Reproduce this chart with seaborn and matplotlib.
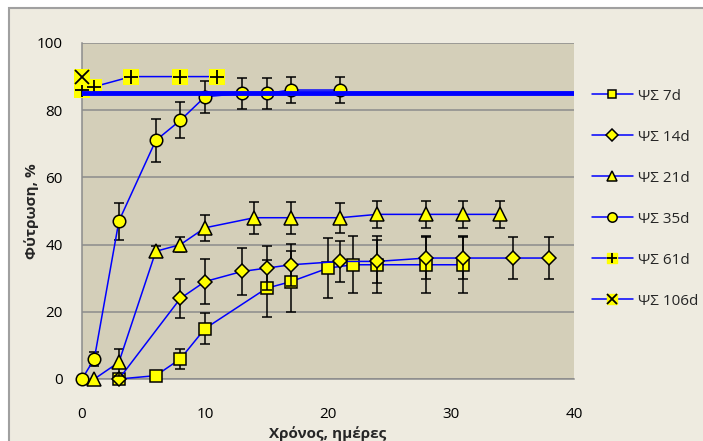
import numpy as np
import pandas as pd
import matplotlib as mpl
mpl.use('Agg')
import matplotlib.pyplot as plt
import seaborn as sns
from matplotlib.patches import Rectangle
from matplotlib.legend_handler import HandlerTuple
from matplotlib.lines import Line2D

# data (days, germination %, error)
days_7 = [3, 6, 8, 10, 15, 17, 20, 22, 24, 28, 31]
germ_7 = [0, 1, 6, 15, 27, 29, 33, 34, 34, 34, 34]
err_7 = [0, 0, 3, 4.5, 8.5, 9, 9, 8.5, 8.5, 8.5, 8.5]

days_14 = [3, 8, 10, 13, 15, 17, 21, 24, 28, 31, 35, 38]
germ_14 = [0, 24, 29, 32, 33, 34, 35, 35, 36, 36, 36, 36]
err_14 = [0, 5.8, 6.6, 7, 6.5, 6.3, 6.2, 6.5, 6.2, 6.2, 6.2, 6.2]

days_21 = [1, 3, 6, 8, 10, 14, 17, 21, 24, 28, 31, 34]
germ_21 = [0, 5, 38, 40, 45, 48, 48, 48, 49, 49, 49, 49]
err_21 = [0, 4, 1.5, 2.3, 3.9, 4.7, 4.7, 4.5, 4, 4, 4, 4]

days_35 = [0, 1, 3, 6, 8, 10, 13, 15, 17, 21]
germ_35 = [0, 6, 47, 71, 77, 84, 85, 85, 86, 86]
err_35 = [0, 2, 5.5, 6.3, 5.3, 4.8, 4.5, 4.5, 4, 4]

days_61 = [0, 1, 4, 8, 11]
germ_61 = [86, 87, 90, 90, 90]

days_106 = [0]
germ_106 = [90]

target_level = 85

labels = ['ΨΣ 7d', 'ΨΣ 14d', 'ΨΣ 21d', 'ΨΣ 35d', 'ΨΣ 61d', 'ΨΣ 106d']

outer_bg = '#EEEBE0'
plot_bg = '#D4CFB9'
grid_c = '#8C8C8C'

sns.set_style('white')
plt.rcParams['font.family'] = ['Open Sans', 'DejaVu Sans']

fig = plt.figure(figsize=(7.03, 4.41), dpi=100)
fig.patch.set_facecolor('white')
fig.patches.append(Rectangle((9 / 703, -0.1), 1.2, 1 - 8 / 441 + 0.1,
                             transform=fig.transFigure, facecolor=outer_bg,
                             edgecolor='#A0A0A0', lw=1.5, zorder=-10))
ax = fig.add_axes([82 / 703, 1 - 379 / 441, (574 - 82) / 703, (379 - 43) / 441])
ax.set_facecolor(plot_bg)

mk = dict(color='blue', lw=1.1, markerfacecolor='yellow', markeredgecolor='black',
          markeredgewidth=1.1, clip_on=False)

handles = []
series = [
    (days_7, germ_7, err_7, 's', 8.5),
    (days_14, germ_14, err_14, 'D', 7.5),
    (days_21, germ_21, err_21, '^', 10),
    (days_35, germ_35, err_35, 'o', 9),
]
z = 3
for (x, y, e, m, ms), lab in zip(series, labels):
    x = np.array(x)
    y = np.array(y)
    e = np.array(e)
    keep = e > 0
    ax.errorbar(x[keep], y[keep], yerr=e[keep], fmt='none', ecolor='black',
                elinewidth=1.1, capsize=3.5, capthick=1.1, zorder=z)
    df = pd.DataFrame({'day': x, 'germ': y})
    sns.lineplot(data=df, x='day', y='germ', ax=ax, marker=m, markersize=ms,
                 zorder=z + 0.5, **mk)
    handles.append(Line2D([], [], marker=m, markersize=ms * 0.75, **mk))
    z += 1

# series drawn as yellow squares with a black symbol on top
for x, y, m, lab in [(days_61, germ_61, '+', labels[4]), (days_106, germ_106, 'x', labels[5])]:
    df = pd.DataFrame({'day': x, 'germ': y})
    if len(x) > 1:
        sns.lineplot(data=df, x='day', y='germ', ax=ax, color='blue', lw=1.1,
                     clip_on=False, zorder=z)
    sns.scatterplot(data=df, x='day', y='germ', ax=ax, marker='s', s=130,
                    color='yellow', edgecolor='none', linewidth=0,
                    clip_on=False, zorder=z + 0.2)
    ax.plot(x, y, linestyle='none', marker=m, markersize=10, color='black',
            markeredgewidth=1.3, clip_on=False, zorder=z + 0.5)
    h1 = Line2D([], [], color='blue', lw=1.1, marker='s', markersize=7,
                markerfacecolor='yellow', markeredgecolor='yellow')
    h2 = Line2D([], [], linestyle='none', marker=m, markersize=7, color='black',
                markeredgewidth=1.3)
    handles.append((h1, h2))
    z += 1

ax.axhline(target_level, color='blue', lw=3.5, zorder=7.5)

ax.set_xlim(0, 40)
ax.set_ylim(0, 100)
ax.set_xticks([0, 10, 20, 30, 40])
ax.set_yticks([0, 20, 40, 60, 80, 100])
ax.yaxis.grid(True, color=grid_c, lw=1.1)
ax.xaxis.grid(False)
ax.set_axisbelow(True)
for s in ['top', 'right']:
    ax.spines[s].set_visible(False)
for s in ['left', 'bottom']:
    ax.spines[s].set_color(grid_c)
    ax.spines[s].set_linewidth(1.1)
ax.tick_params(axis='both', which='major', direction='out', length=4, width=1,
               color=grid_c, labelsize=11, labelcolor='black')
ax.tick_params(axis='y', pad=10)
ax.tick_params(axis='x', pad=16)

ax.set_xlabel('Χρόνος, ημέρες', fontsize=11, fontweight='bold', labelpad=3)
ax.set_ylabel('Φύτρωση, %', fontsize=11, fontweight='bold', labelpad=-2)

ax.legend(handles, labels, loc='upper left', bbox_to_anchor=(578 / 703, 1 - 75 / 441),
          bbox_transform=fig.transFigure, frameon=False, fontsize=11,
          labelspacing=1.7, handlelength=2.7, handletextpad=0.3,
          handler_map={tuple: HandlerTuple(ndivide=1, pad=0)})

fig.savefig('out.png', dpi=100, facecolor=fig.get_facecolor())
